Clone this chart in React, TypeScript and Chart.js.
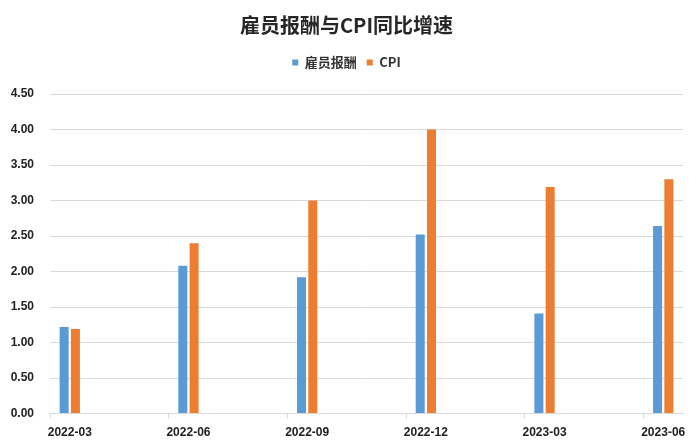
import React, { useEffect, useRef } from "react";
import { Chart, registerables } from "chart.js";

Chart.register(...registerables);

const months: string[] = [
  "2022-03", "2022-04", "2022-05", "2022-06", "2022-07", "2022-08",
  "2022-09", "2022-10", "2022-11", "2022-12", "2023-01", "2023-02",
  "2023-03", "2023-04", "2023-05", "2023-06",
];

// 雇员报酬 (quarterly values, other months empty)
const compensation: (number | null)[] = [
  1.22, null, null, 2.08, null, null,
  1.92, null, null, 2.52, null, null,
  1.41, null, null, 2.64,
];

// CPI
const cpi: (number | null)[] = [
  1.19, null, null, 2.40, null, null,
  3.00, null, null, 4.00, null, null,
  3.19, null, null, 3.30,
];

const seriesNames = ["雇员报酬", "CPI"];
const titleText = "雇员报酬与CPI同比增速";

const BLUE = "#5B9BD5";
const ORANGE = "#ED7D31";
const GRID = "#D9D9D9";
const CJK = "'Noto Sans CJK SC', 'Noto Sans', sans-serif";
const LATIN = "'Liberation Sans', Arial, sans-serif";

const legendSpacer = {
  id: "legendSpacer",
  beforeInit(chart: any) {
    const legend = chart.legend;
    if (!legend) return;
    const origFit = legend.fit;
    legend.fit = function () {
      origFit.call(this);
      this.height += 15;
    };
  },
};

export default function App() {
  const ref = useRef<HTMLCanvasElement | null>(null);

  useEffect(() => {
    document.body.style.margin = "0";
    const canvas = ref.current;
    if (!canvas) return;
    const chart = new Chart(canvas, {
      type: "bar",
      data: {
        labels: months,
        datasets: [
          {
            label: seriesNames[0],
            data: compensation,
            backgroundColor: BLUE,
            borderWidth: 0,
            barPercentage: 0.8,
            categoryPercentage: 0.57,
          },
          {
            label: seriesNames[1],
            data: cpi,
            backgroundColor: ORANGE,
            borderWidth: 0,
            barPercentage: 0.8,
            categoryPercentage: 0.57,
          },
        ],
      },
      plugins: [legendSpacer],
      options: {
        responsive: false,
        animation: false,
        layout: { padding: { left: 10, right: 17, top: 0, bottom: 1 } },
        plugins: {
          tooltip: { enabled: false },
          title: {
            display: true,
            text: titleText,
            color: "#262626",
            font: { family: CJK, size: 20, weight: "bold" },
            padding: { top: 13, bottom: 9 },
          },
          legend: {
            display: true,
            position: "top",
            labels: {
              boxWidth: 6,
              boxHeight: 6,
              padding: 10,
              color: "#333333",
              font: { family: CJK, size: 13, weight: "bold" },
            },
          },
        },
        scales: {
          x: {
            type: "category",
            offset: true,
            grid: {
              offset: true,
              drawOnChartArea: false,
              drawTicks: true,
              tickLength: 5,
              color: (ctx: any) =>
                typeof ctx.index === "number" && ctx.index % 3 === 0 ? GRID : "rgba(0,0,0,0)",
            },
            border: { display: true, color: GRID },
            ticks: {
              autoSkip: false,
              maxRotation: 0,
              padding: 7,
              color: "#222222",
              font: { family: LATIN, size: 12, weight: "bold" },
              callback: (_v: any, i: number) => (i % 3 === 0 ? months[i] : ""),
            },
          },
          y: {
            min: 0,
            max: 4.5,
            afterFit: (scale: any) => {
              scale.width = 40;
            },
            grid: { color: GRID, drawTicks: false, lineWidth: 1 },
            border: { display: false },
            ticks: {
              stepSize: 0.5,
              padding: 16,
              color: "#222222",
              font: { family: LATIN, size: 12, weight: "bold" },
              callback: (v: any) => Number(v).toFixed(2),
            },
          },
        },
      },
    });
    return () => chart.destroy();
  }, []);

  return <canvas ref={ref} width={700} height={448} style={{ display: "block" }} />;
}
